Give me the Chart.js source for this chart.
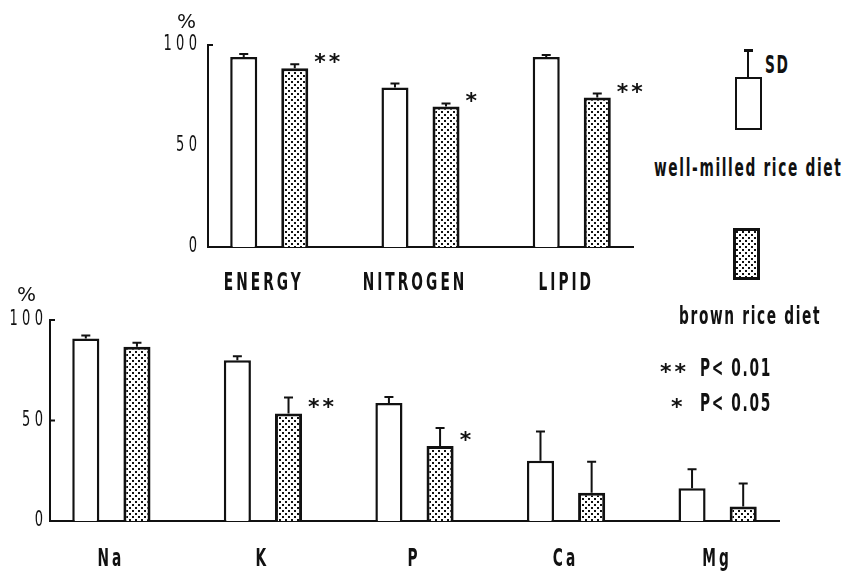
<!DOCTYPE html>
<html>
<head>
<meta charset="utf-8">
<script src="https://cdn.jsdelivr.net/npm/chart.js@4.4.0/dist/chart.umd.min.js"></script>
<style>
  body { margin: 0; background: #fff; width: 845px; height: 586px; overflow: hidden; position: relative;
         font-family: "DejaVu Sans", sans-serif; color: #111; }
  #topWrap { position: absolute; left: 0; top: 0; width: 650px; height: 300px; }
  #botWrap { position: absolute; left: 0; top: 270px; width: 800px; height: 316px; }
  .t { position: absolute; white-space: nowrap; font-weight: bold; font-size: 25px; line-height: 25px; letter-spacing: 3px;
       transform: scaleX(0.55); transform-origin: 0 0; }
  .pc { position: absolute; font-size: 20px; line-height: 20px; }
  .st { position: absolute; font-weight: bold; font-size: 22px; line-height: 22px; letter-spacing: 3px; }
  .box { position: absolute; box-sizing: border-box; border: 2.5px solid #111; background: #fff; }
  .ln { position: absolute; background: #111; }
</style>
</head>
<body>
<div id="topWrap"><canvas id="topChart"></canvas></div>
<div id="botWrap"><canvas id="bottomChart"></canvas></div>

<div class="pc" style="left:177px;top:11px">%</div>
<div class="pc" style="left:17px;top:284px">%</div>

<!-- legend -->
<div class="ln" style="left:747px;top:50px;width:2px;height:28px"></div>
<div class="ln" style="left:744px;top:49px;width:9px;height:2.5px"></div>
<div class="box" style="left:735px;top:77px;width:27px;height:53px"></div>
<div class="t" style="left:765px;top:52px">SD</div>
<div class="t" style="left:654px;top:155px">well-milled rice diet</div>
<div class="box" id="brownBox" style="left:733px;top:228px;width:27px;height:52px;border-width:3px"></div>
<div class="t" style="left:679px;top:303px">brown rice diet</div>
<div class="st" style="left:660px;top:361px">**</div>
<div class="t" style="left:700px;top:355px">P&lt; 0.01</div>
<div class="st" style="left:671px;top:396px">*</div>
<div class="t" style="left:700px;top:390px">P&lt; 0.05</div>

<script>
// upper panel
const topLabels = ["ENERGY", "NITROGEN", "LIPID"];
const wellTop = [94, 79, 94];
const wellTopSD = [1.5, 2, 1];
const brownTop = [88.5, 69.5, 74];
const brownTopSD = [2, 1.5, 2];
const topSig = ["**", "*", "**"];

// lower panel
const bottomLabels = ["Na", "K", "P", "Ca", "Mg"];
const wellBottom = [90.8, 80, 58.7, 30, 16.3];
const wellBottomSD = [1.5, 2, 3, 14.5, 9.5];
const brownBottom = [86.7, 53.5, 37.3, 14, 7.2];
const brownBottomSD = [2, 8, 9, 15.5, 11.5];
const bottomSig = ["", "**", "*", "", ""];

const yTicks = [0, 50, 100];

const FONT = '"DejaVu Sans", sans-serif';
const INK = "#111";

// stippled fill for brown rice bars
const tile = document.createElement("canvas");
tile.width = 6; tile.height = 6;
const tctx = tile.getContext("2d");
tctx.fillStyle = "#fff";
tctx.fillRect(0, 0, 6, 6);
tctx.fillStyle = "#111";
tctx.fillRect(0, 0, 2, 2);
tctx.fillRect(3, 3, 2, 2);
const dots = tctx.createPattern(tile, "repeat");
document.getElementById("brownBox").style.backgroundImage = "url(" + tile.toDataURL() + ")";

// narrow typewriter-ish lettering: draw the scales' own tick labels squeezed horizontally
function squeezed(ctx, text, x, y, font, sx, spacing, align) {
  ctx.save();
  ctx.font = font;
  ctx.letterSpacing = spacing + "px";
  ctx.textBaseline = "middle";
  ctx.textAlign = "left";
  const w = ctx.measureText(text).width - spacing;
  ctx.translate(x, y);
  ctx.scale(sx, 1);
  const x0 = align === "center" ? -w / 2 : -w;
  ctx.fillStyle = INK;
  ctx.fillText(text, x0, 0);
  ctx.restore();
}

const tickText = {
  id: "tickText",
  afterDraw(chart) {
    const ctx = chart.ctx;
    const g = chart.options.geom;
    const xs = chart.scales.x, ys = chart.scales.y;
    xs.ticks.forEach((t, i) => {
      squeezed(ctx, String(t.label), xs.getPixelForTick(i) + g.xShift, xs.top + g.xLabelY,
        "bold 25px " + FONT, 0.55, 5.5, "center");
    });
    ys.ticks.forEach((t, i) => {
      squeezed(ctx, String(t.label), ys.right - g.yPad, ys.getPixelForTick(i),
        "21px " + FONT, 0.62, 7, "right");
    });
  }
};

// SD whiskers, significance stars, small inner ticks on the y axis
const errorBars = {
  id: "errorBars",
  afterDatasetsDraw(chart) {
    const ctx = chart.ctx;
    const y = chart.scales.y;
    const g = chart.options.geom;
    ctx.save();
    ctx.strokeStyle = INK;
    ctx.fillStyle = INK;
    ctx.lineWidth = 2;
    chart.data.datasets.forEach((ds, di) => {
      chart.getDatasetMeta(di).data.forEach((bar, i) => {
        const top = y.getPixelForValue(ds.data[i].y + ds.sd[i]);
        ctx.beginPath();
        ctx.moveTo(bar.x, bar.y);
        ctx.lineTo(bar.x, top);
        ctx.moveTo(bar.x - 4.5, top);
        ctx.lineTo(bar.x + 4.5, top);
        ctx.stroke();
        if (ds.sig && ds.sig[i]) {
          ctx.font = 'bold 22px "DejaVu Sans", sans-serif';
          ctx.letterSpacing = "3px";
          ctx.textAlign = "left";
          ctx.textBaseline = "alphabetic";
          ctx.fillText(ds.sig[i], bar.x + bar.width / 2 + 6, bar.y + 1);
        }
      });
    });
    const a = chart.chartArea;
    ctx.beginPath();
    g.innerTicks.forEach((v) => {
      const py = y.getPixelForValue(v);
      ctx.moveTo(a.left, py);
      ctx.lineTo(a.left + 5, py);
    });
    ctx.stroke();
    ctx.restore();
  }
};

function makeChart(id, labels, well, wellSD, brown, brownSD, sig, g) {
  return new Chart(document.getElementById(id), {
    type: "bar",
    data: {
      datasets: [
        {
          label: "well-milled rice diet",
          data: labels.map((_, i) => ({ x: i, y: well[i] })),
          sd: wellSD,
          backgroundColor: "#fff",
          borderColor: INK,
          borderWidth: 2.5,
          categoryPercentage: 0.675,
          barPercentage: 0.53
        },
        {
          label: "brown rice diet",
          data: labels.map((_, i) => ({ x: i, y: brown[i] })),
          sd: brownSD,
          sig: sig,
          backgroundColor: dots,
          borderColor: INK,
          borderWidth: 3,
          categoryPercentage: 0.675,
          barPercentage: 0.53
        }
      ]
    },
    options: {
      geom: g,
      responsive: true,
      maintainAspectRatio: false,
      animation: false,
      layout: { padding: { top: g.top, right: g.right, left: 0, bottom: 0 } },
      plugins: { legend: { display: false }, tooltip: { enabled: false } },
      scales: {
        x: {
          type: "linear",
          offset: false,
          min: -0.405,
          max: labels.length - 1 + 0.405,
          grid: { display: false, drawTicks: false },
          border: { display: true, color: INK, width: 2 },
          afterBuildTicks: (s) => { s.ticks = labels.map((_, i) => ({ value: i })); },
          afterFit: (s) => { s.height = g.xHeight; },
          ticks: { display: false, autoSkip: false, callback: (v) => labels[v] }
        },
        y: {
          min: 0,
          max: 100,
          grid: { display: false, drawTicks: false },
          border: { display: true, color: INK, width: 2 },
          afterBuildTicks: (s) => { s.ticks = yTicks.map((v) => ({ value: v })); },
          afterFit: (s) => { s.width = g.yWidth; },
          ticks: { display: false }
        }
      }
    },
    plugins: [errorBars, tickText]
  });
}

makeChart("topChart", topLabels, wellTop, wellTopSD, brownTop, brownTopSD, topSig,
  { top: 45, right: 17, xHeight: 53, yWidth: 208, xLabelY: 36, xShift: -7, yPad: 11, innerTicks: [100] });
makeChart("bottomChart", bottomLabels, wellBottom, wellBottomSD, brownBottom, brownBottomSD, bottomSig,
  { top: 50, right: 21, xHeight: 65, yWidth: 50, xLabelY: 38, xShift: -2, yPad: 7, innerTicks: [100, 50] });
</script>
</body>
</html>
